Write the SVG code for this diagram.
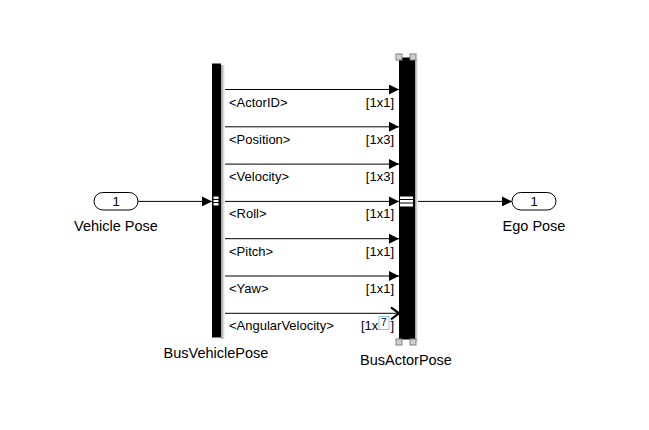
<svg xmlns="http://www.w3.org/2000/svg" width="649" height="430" viewBox="0 0 649 430">
<defs>
<style>
text{font-family:"Liberation Sans",Arial,sans-serif;fill:#000}
.lbl{font-size:13px}
.dim{font-size:13px;text-anchor:end}
.name{font-size:14.5px;text-anchor:middle}
.ln{stroke:#000;stroke-width:1;fill:none}
.port{fill:#fff;stroke:#000;stroke-width:1}
.hdl{fill:#d0d0d0;stroke:#808080;stroke-width:1}
</style>
<marker id="ah" markerWidth="10" markerHeight="10" refX="10" refY="5" orient="auto" markerUnits="userSpaceOnUse">
<path d="M0,0 L10,5 L0,10 Z" fill="#000"/>
</marker>
<marker id="ao" markerWidth="12" markerHeight="14" refX="10" refY="7" orient="auto" markerUnits="userSpaceOnUse">
<path d="M2,1 L10,7 L2,13" fill="none" stroke="#000" stroke-width="2.2"/>
</marker>
<linearGradient id="sh" x1="0" x2="1" y1="0" y2="0">
<stop offset="0" stop-color="#999"/>
<stop offset="1" stop-color="#fff"/>
</linearGradient>
</defs>
<rect width="649" height="430" fill="#fff"/>
<g id="connectors">
<line class="ln" x1="138" y1="201.4" x2="212" y2="201.4" marker-end="url(#ah)"/>
<line class="ln" x1="415" y1="201.4" x2="512" y2="201.4" marker-end="url(#ah)"/>
<line class="ln" x1="221" y1="89.5" x2="399" y2="89.5" marker-end="url(#ah)"/>
<line class="ln" x1="221" y1="126.8" x2="399" y2="126.8" marker-end="url(#ah)"/>
<line class="ln" x1="221" y1="164.1" x2="399" y2="164.1" marker-end="url(#ah)"/>
<line class="ln" x1="221" y1="201.4" x2="399" y2="201.4" marker-end="url(#ah)"/>
<line class="ln" x1="221" y1="238.7" x2="399" y2="238.7" marker-end="url(#ah)"/>
<line class="ln" x1="221" y1="276" x2="399" y2="276" marker-end="url(#ah)"/>
<line class="ln" x1="221" y1="313.3" x2="399" y2="313.3" marker-end="url(#ao)"/>
<text class="lbl" x="229" y="106.5">&lt;ActorID&gt;</text>
<text class="dim" x="394" y="106.5">[1x1]</text>
<text class="lbl" x="229" y="143.8">&lt;Position&gt;</text>
<text class="dim" x="394" y="143.8">[1x3]</text>
<text class="lbl" x="229" y="181.1">&lt;Velocity&gt;</text>
<text class="dim" x="394" y="181.1">[1x3]</text>
<text class="lbl" x="229" y="218.4">&lt;Roll&gt;</text>
<text class="dim" x="394" y="218.4">[1x1]</text>
<text class="lbl" x="229" y="255.7">&lt;Pitch&gt;</text>
<text class="dim" x="394" y="255.7">[1x1]</text>
<text class="lbl" x="229" y="293">&lt;Yaw&gt;</text>
<text class="dim" x="394" y="293">[1x1]</text>
<text class="lbl" x="229" y="330.3">&lt;AngularVelocity&gt;</text>
<text class="lbl" x="361" y="330.3">[1x</text>
<rect x="379" y="316.5" width="10" height="13" fill="#fff" stroke="#8fc3ea" stroke-width="1"/>
<text x="381" y="326" style="font-size:10px">7</text>
<text class="lbl" x="390.5" y="330.3">]</text>
</g>
<g id="inport">
<rect x="94" y="192.5" width="44" height="17.5" rx="8.75" fill="#fff" stroke="#000" stroke-width="1"/>
<text x="116" y="206" style="font-size:13px;text-anchor:middle">1</text>
<text class="name" x="116" y="231">Vehicle Pose</text>
</g>
<g id="BusVehiclePose">
<rect x="221" y="65" width="4" height="274" fill="url(#sh)"/>
<rect x="212" y="63.5" width="9" height="274" fill="#000"/>
<rect x="213" y="196" width="6" height="10" class="port"/>
<line x1="213" y1="199.5" x2="219" y2="199.5" stroke="#000"/>
<line x1="213" y1="202.5" x2="219" y2="202.5" stroke="#000"/>
<text class="name" x="216" y="358">BusVehiclePose</text>
</g>
<g id="BusActorPose">
<rect x="415" y="59" width="3" height="282" fill="url(#sh)"/>
<rect x="399" y="57.5" width="16" height="282" fill="#000"/>
<rect x="399.5" y="196" width="14" height="11" class="port"/>
<line x1="399.5" y1="199.5" x2="413.5" y2="199.5" stroke="#000"/>
<line x1="399.5" y1="203" x2="413.5" y2="203" stroke="#000"/>
<rect x="396" y="54" width="6" height="6" class="hdl"/>
<rect x="410" y="54" width="6" height="6" class="hdl"/>
<rect x="396" y="339" width="6" height="6" class="hdl"/>
<rect x="410" y="339" width="6" height="6" class="hdl"/>
<text class="name" x="406" y="365">BusActorPose</text>
</g>
<g id="outport">
<rect x="512" y="192.5" width="44" height="17.5" rx="8.75" fill="#fff" stroke="#000" stroke-width="1"/>
<text x="534" y="206" style="font-size:13px;text-anchor:middle">1</text>
<text class="name" x="534" y="231">Ego Pose</text>
</g>
</svg>
